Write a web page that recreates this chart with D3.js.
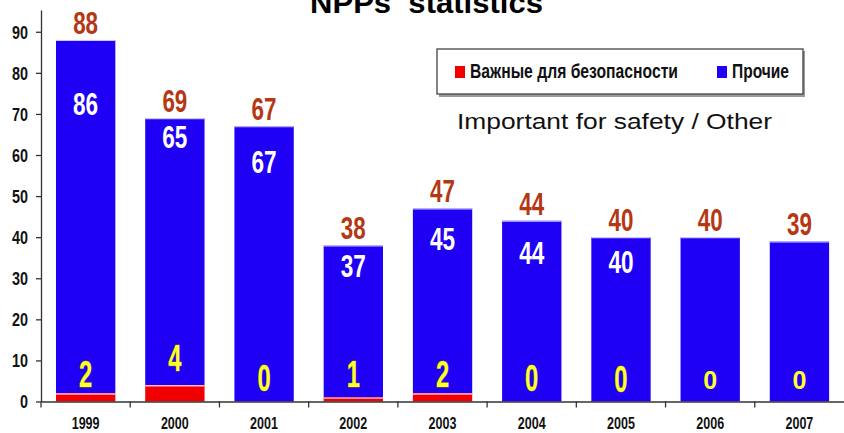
<!DOCTYPE html>
<html>
<head>
<meta charset="utf-8">
<script src="https://cdn.jsdelivr.net/npm/d3@7"></script>
<style>
  body { margin: 0; background: #fff; }
  text { font-family: "Liberation Sans", Arial, sans-serif; }
  .bold { font-weight: bold; }
</style>
</head>
<body>
<div id="chart-area"></div>
<script>
// data
let years = ['1999', '2000', '2001', '2002', '2003', '2004', '2005', '2006', '2007'];
let safety = [2, 4, 0, 1, 2, 0, 0, 0, 0];
let other = [86, 65, 67, 37, 45, 44, 40, 40, 39];
let totals = [88, 69, 67, 38, 47, 44, 40, 40, 39];
let yTicks = [0, 10, 20, 30, 40, 50, 60, 70, 80, 90];
let legendLabels = ['Важные для безопасности', 'Прочие'];

// where the in-bar labels sit (value units), as placed in the original
let otherLabelAt = [69.8, 61.8, 55.7, 30.2, 37.0, 33.4, 31.4];
let safetyLabelAt = [3.5, 7.4, 2.5, 3.5, 3.5, 2.5, 2.3, 3.0, 3.0];

let margin = {top: 10, right: 0, bottom: 31, left: 41};
let width = 844 - margin.left - margin.right,
    height = 433 - margin.top - margin.bottom - 0.5;

// no narrow font installed -> squeeze text horizontally
function squeeze(sel, sx) {
    sel.each(function() {
        let t = d3.select(this);
        let tx = +t.attr("x") || 0, ty = +t.attr("y") || 0;
        t.attr("x", 0).attr("y", 0)
         .attr("transform", "translate(" + tx + "," + ty + ") scale(" + sx + ",1)");
    });
}

let svg = d3.select("#chart-area").append("svg")
    .attr("width", 844)
    .attr("height", 433);

let g = svg.append("g")
    .attr("transform", "translate(" + margin.left + "," + margin.top + ")");

let x = d3.scaleBand()
    .domain(years)
    .range([0, width]);

let y = d3.scaleLinear()
    .domain([0, 95.3])
    .range([height, 0]);

let barOff = x.bandwidth() * 0.168,
    barW = x.bandwidth() * 0.665;

let rows = years.map((yr, i) => ({year: yr, safety: safety[i], other: other[i], total: totals[i], i: i}));

// bars
let bars = g.selectAll(".bar").data(rows).enter().append("g").attr("class", "bar");

bars.append("rect")
    .attr("x", d => x(d.year) + barOff)
    .attr("width", barW)
    .attr("y", d => y(d.total))
    .attr("height", d => y(d.safety) - y(d.total))
    .style("fill", "#2000f4");

bars.append("line")
    .attr("x1", d => x(d.year) + barOff)
    .attr("x2", d => x(d.year) + barOff + barW)
    .attr("y1", d => y(d.total) + 0.5)
    .attr("y2", d => y(d.total) + 0.5)
    .style("stroke", "#c8c8ff")
    .style("stroke-width", 1.2);

bars.filter(d => d.safety > 0).append("rect")
    .attr("x", d => x(d.year) + barOff)
    .attr("width", barW)
    .attr("y", d => y(d.safety))
    .attr("height", d => y(0) - y(d.safety))
    .style("fill", "#f20000");

bars.filter(d => d.safety > 0).append("line")
    .attr("x1", d => x(d.year) + barOff)
    .attr("x2", d => x(d.year) + barOff + barW)
    .attr("y1", d => y(d.safety) + 0.7)
    .attr("y2", d => y(d.safety) + 0.7)
    .style("stroke", "#ffb4c8")
    .style("stroke-width", 1.4);

// totals above bars
g.selectAll(".total").data(rows).enter().append("text")
    .attr("class", "total bold")
    .attr("x", d => x(d.year) + x.bandwidth() / 2)
    .attr("y", d => y(d.total) - 6)
    .attr("text-anchor", "middle")
    .style("font-size", "32px")
    .style("fill", "#b43814")
    .text(d => d.total)
    .call(squeeze, 0.7);

// "other" values inside bars
g.selectAll(".otherLbl").data(rows.slice(0, otherLabelAt.length)).enter().append("text")
    .attr("class", "otherLbl bold")
    .attr("x", d => x(d.year) + x.bandwidth() / 2)
    .attr("y", d => y(otherLabelAt[d.i]))
    .attr("text-anchor", "middle")
    .style("font-size", "30.5px")
    .style("fill", "#ffffff")
    .text(d => d.other)
    .call(squeeze, 0.74);

// safety values near the bottom
g.selectAll(".safeLbl").data(rows.slice(0, 7)).enter().append("text")
    .attr("class", "safeLbl bold")
    .attr("x", d => x(d.year) + x.bandwidth() / 2)
    .attr("y", d => y(safetyLabelAt[d.i]))
    .attr("text-anchor", "middle")
    .style("font-size", "36px")
    .style("fill", "#ffff2a")
    .style("stroke", "#6a6a30")
    .style("stroke-width", 0.9)
    .style("paint-order", "stroke")
    .text(d => d.safety)
    .call(squeeze, 0.66);

g.selectAll(".safeLbl2").data(rows.slice(7)).enter().append("text")
    .attr("class", "safeLbl2 bold")
    .attr("x", d => x(d.year) + x.bandwidth() / 2)
    .attr("y", d => y(safetyLabelAt[d.i]))
    .attr("text-anchor", "middle")
    .style("font-size", "25px")
    .style("fill", "#ffff2a")
    .text(d => d.safety);

// axes
let yAxis = d3.axisLeft(y).tickValues(yTicks).tickSize(5).tickSizeOuter(0).tickPadding(8);
let yAxisGroup = g.append("g").attr("class", "y-axis axis").call(yAxis);
yAxisGroup.selectAll("path, line").style("stroke", "#333").style("stroke-width", 1.3);
yAxisGroup.selectAll("text")
    .attr("class", "bold")
    .style("font-size", "18px")
    .style("fill", "#111")
    .attr("dy", "0.36em")
    .call(squeeze, 0.8);

let xAxis = d3.axisBottom(x).tickSize(0).tickSizeOuter(0);
let xAxisGroup = g.append("g").attr("class", "x-axis axis")
    .attr("transform", "translate(0," + height + ")")
    .call(xAxis);
xAxisGroup.select("path").style("stroke", "#333").style("stroke-width", 1.3);
xAxisGroup.selectAll("text")
    .attr("class", "bold")
    .attr("y", 27.5)
    .attr("dy", 0)
    .style("font-size", "16.5px")
    .style("fill", "#111")
    .call(squeeze, 0.76);
xAxisGroup.selectAll(".boundary").data(years).enter().append("line")
    .attr("x1", d => x(d)).attr("x2", d => x(d))
    .attr("y1", 0).attr("y2", 6)
    .style("stroke", "#333").style("stroke-width", 1.3);

// title (top is cut off in the original)
svg.append("text")
    .attr("x", 310).attr("y", 13)
    .attr("textLength", 233).attr("lengthAdjust", "spacingAndGlyphs")
    .style("font-weight", "bold")
    .style("font-size", "29px")
    .style("fill", "#000")
    .style("white-space", "pre")
    .text("NPPs  statistics");

// legend
let legend = svg.append("g");
legend.append("rect")
    .attr("x", 439).attr("y", 51).attr("width", 366).attr("height", 46)
    .style("fill", "#9a9a9a");
legend.append("rect")
    .attr("x", 437).attr("y", 49).attr("width", 366).attr("height", 45)
    .style("fill", "#fff").style("stroke", "#444").style("stroke-width", 1.3);
let legendX = [455, 717];
let legendW = [208, 57];
let legendColors = ['#f20000', '#2000f4'];
legendLabels.forEach((lab, i) => {
    legend.append("rect")
        .attr("x", legendX[i]).attr("y", 66).attr("width", 10).attr("height", 12)
        .style("fill", legendColors[i]);
    legend.append("text")
        .attr("class", "bold")
        .attr("x", legendX[i] + 15).attr("y", 78)
        .attr("textLength", legendW[i]).attr("lengthAdjust", "spacingAndGlyphs")
        .style("font-size", "20px")
        .style("fill", "#111")
        .text(lab);
});

svg.append("text")
    .attr("x", 457).attr("y", 129)
    .attr("textLength", 315).attr("lengthAdjust", "spacingAndGlyphs")
    .style("font-size", "22px")
    .style("fill", "#111")
    .text("Important for safety / Other");
</script>
</body>
</html>
